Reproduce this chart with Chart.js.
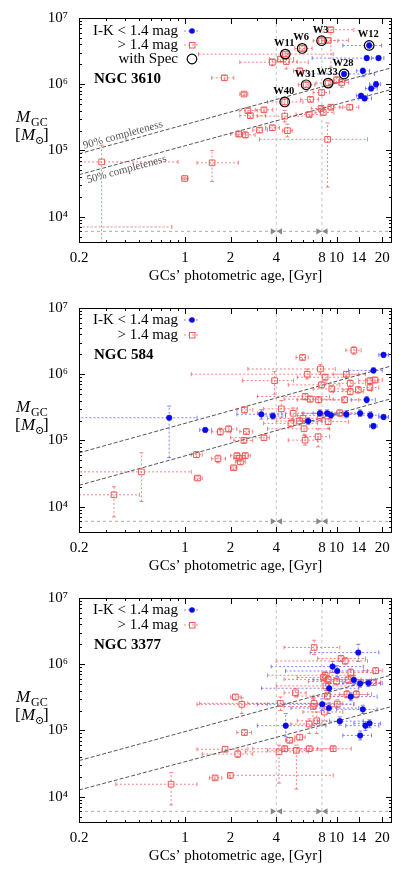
<!DOCTYPE html>
<html lang="en">
<head>
<meta charset="UTF-8">
<title>GC mass vs photometric age</title>
<script src="https://cdn.jsdelivr.net/npm/chart.js"></script>
<style>
  body { margin: 0; background: #fff; }
  canvas { display: block; }
</style>
</head>
<body>
<canvas id="p1" width="415" height="290"></canvas>
<canvas id="p2" width="415" height="290"></canvas>
<canvas id="p3" width="415" height="292"></canvas>
<script>
// axes
const ageTicks = [0.2, 0.3, 0.4, 0.5, 0.6, 0.7, 0.8, 0.9, 1, 2, 3, 4, 5, 6, 7, 8, 9, 10, 14, 20];
const ageLabels = [0.2, 1, 2, 4, 8, 10, 14, 20];
const massTicks = [5e3, 6e3, 7e3, 8e3, 9e3, 1e4, 2e4, 3e4, 4e4, 5e4, 6e4, 7e4, 8e4, 9e4,
  1e5, 2e5, 3e5, 4e5, 5e5, 6e5, 7e5, 8e5, 9e5, 1e6, 2e6, 3e6, 4e6, 5e6, 6e6, 7e6, 8e6, 9e6, 1e7];
const massLabels = [1e4, 1e5, 1e6, 1e7];
const supers = { 4: '\u2074', 5: '\u2075', 6: '\u2076', 7: '\u2077' };

// reference marks
const refAges = [4, 8];
const floorMass = 6000;
const arrowAges = [3.78, 4.25, 7.55, 8.48];
const arrowTurn = [90, -90, 90, -90];
const complAges = [0.2, 23.2];

// rows: [age, mass, ageLo, ageHi, massLo, massHi]
const n3610Blue = [
  [16.4, 3.85e6, 11.0, 19.8, 3.4e6, 4.3e6],
  [15.8, 2.48e6, 6.9, 18.5, 2.3e6, 2.7e6],
  [18.9, 2.48e6, 17.0, 20.5, 2.3e6, 2.7e6],
  [11.2, 1.43e6, 6.6, 17.8, 1.3e6, 1.55e6],
  [14.9, 1.59e6, 13.5, 16.5, 1.3e6, 1.75e6],
  [18.2, 1.0e6, 16.5, 19.5, 9e5, 1.1e6],
  [16.9, 8.6e5, 15.5, 18.5, 8e5, 9.3e5],
  [14.5, 6.7e5, 13.5, 16.0, 6.2e5, 7.2e5],
  [15.3, 6.1e5, 14.0, 17.0, 5.7e5, 6.6e5]
];
const n3610Red = [
  [9.17, 6.65e6, 7.2, 13.0, 1.8e6, 7.2e6],
  [7.96, 4.54e6, 7.0, 10.2, 4.1e6, 5.0e6],
  [8.8, 4.6e6, 8.0, 12.0, 4.2e6, 5.0e6],
  [5.93, 3.47e6, 5.3, 6.9, 3.2e6, 3.8e6],
  [4.59, 2.85e6, 1.23, 9.5, 2.6e6, 3.1e6],
  [3.77, 2.15e6, 2.3, 6.5, 1.9e6, 2.4e6],
  [4.26, 2.4e6, 3.6, 5.2, 2.2e6, 2.6e6],
  [4.66, 2.2e6, 4.0, 5.5, 1.7e6, 2.9e6],
  [5.72, 1.59e6, 5.2, 6.3, 1.45e6, 1.75e6],
  [1.82, 1.25e6, 1.5, 2.1, 1.15e6, 1.35e6],
  [6.3, 9.8e5, 5.6, 7.2, 9e5, 1.07e6],
  [8.8, 1.04e6, 7.3, 10.5, 9.5e5, 1.15e6],
  [10.0, 1.16e6, 9.0, 11.5, 1.05e6, 1.3e6],
  [10.8, 1.06e6, 9.6, 12.0, 9e5, 1.2e6],
  [2.45, 7.1e5, 2.3, 2.6, 6.7e5, 7.5e5],
  [7.96, 7.5e5, 7.0, 9.0, 6.8e5, 8.2e5],
  [4.55, 5.4e5, 3.5, 6.0, 4.9e5, 6.0e5],
  [6.73, 5.9e5, 5.8, 7.6, 5.4e5, 6.4e5],
  [2.6, 4.0e5, 2.3, 3.0, 3.7e5, 4.3e5],
  [3.32, 4.1e5, 2.9, 3.8, 3.8e5, 4.4e5],
  [2.7, 3.35e5, 2.3, 3.4, 3.1e5, 3.6e5],
  [4.55, 3.3e5, 3.0, 6.8, 2.7e5, 4.0e5],
  [6.6, 3.5e5, 5.4, 7.8, 3.2e5, 3.8e5],
  [7.9, 4.3e5, 6.8, 9.5, 3.9e5, 4.7e5],
  [8.17, 3.75e5, 7.2, 9.6, 3.4e5, 4.1e5],
  [9.17, 4.5e5, 8.0, 11.0, 4.1e5, 4.9e5],
  [12.2, 4.5e5, 10.5, 14.0, 4.1e5, 4.9e5],
  [3.1, 2.03e5, 2.8, 3.5, 1.85e5, 2.2e5],
  [3.77, 2.2e5, 3.4, 4.2, 2.0e5, 2.4e5],
  [4.74, 1.99e5, 4.4, 5.1, 1.6e5, 2.5e5],
  [2.26, 1.77e5, 2.0, 2.5, 1.6e5, 1.95e5],
  [2.5, 1.72e5, 2.2, 2.9, 1.55e5, 1.9e5],
  [8.72, 1.47e5, 3.1, 16.0, 2.8e4, 2.6e5],
  [0.282, 6.7e4, 0.15, 0.9, 3000, 1.2e5],
  [1.51, 6.5e4, 1.2, 2.25, 3.4e4, 1.0e5],
  [0.996, 3.77e4, 0.95, 1.05, 3.6e4, 3.95e4],
  [0.15, 7000, 0.08, 0.82, 6800, 7200]
];
// spectroscopic GCs: [age, mass]
const n3610SpecNames = ['W3', 'W6', 'W11', 'W12', 'W28', 'W31', 'W33', 'W40'];
const n3610Spec = [[7.96, 4.54e6], [5.93, 3.47e6], [4.59, 2.85e6], [16.4, 3.85e6],
  [11.2, 1.43e6], [6.3, 9.8e5], [8.8, 1.04e6], [4.55, 5.4e5]];
const n3610Compl90 = [8.9e4, 1.78e6];
const n3610Compl50 = [4.3e4, 8.4e5];

const n584Blue = [
  [0.787, 2.2e5, 0.12, 1.2, 5.5e4, 3.3e5],
  [1.36, 1.44e5, 1.25, 1.5, 1.35e5, 1.55e5],
  [3.19, 2.48e5, 2.2, 4.6, 2.1e5, 2.9e5],
  [3.8, 2.34e5, 3.2, 4.6, 2.1e5, 2.6e5],
  [6.5, 1.96e5, 5.2, 8.0, 1.75e5, 2.2e5],
  [7.76, 2.57e5, 6.0, 10.0, 2.3e5, 2.9e5],
  [8.67, 2.57e5, 7.0, 11.0, 2.3e5, 2.9e5],
  [9.17, 2.4e5, 7.5, 12.0, 2.15e5, 2.7e5],
  [11.6, 2.48e5, 9.0, 14.0, 2.2e5, 2.8e5],
  [14.3, 2.57e5, 11.0, 17.0, 2.3e5, 2.9e5],
  [15.8, 4.1e5, 12.5, 18.0, 3.7e5, 4.6e5],
  [17.5, 1.14e6, 12.0, 20.0, 1.05e6, 1.25e6],
  [20.4, 1.96e6, 19.0, 22.0, 1.8e6, 2.1e6],
  [16.7, 2.4e5, 14.0, 19.0, 2.15e5, 2.7e5],
  [20.4, 2.26e5, 19.0, 22.0, 2.1e5, 2.45e5],
  [17.5, 1.65e5, 16.5, 18.5, 1.5e5, 1.8e5]
];
const n584Red = [
  [13.0, 2.3e6, 11.5, 14.5, 2.0e6, 2.6e6],
  [5.96, 1.79e6, 5.4, 6.5, 1.65e6, 1.95e6],
  [7.83, 1.2e6, 2.6, 9.8, 1.0e6, 1.4e6],
  [6.4, 1.0e6, 1.1, 15.5, 8.5e5, 1.2e6],
  [3.9, 8.0e5, 2.4, 5.2, 5e5, 1.1e6],
  [8.4, 9.0e5, 5.5, 11.5, 8.2e5, 1.0e6],
  [11.6, 1.0e6, 9.5, 14.0, 9e5, 1.1e6],
  [12.3, 7.3e5, 8.5, 15.5, 6.5e5, 8.2e5],
  [16.6, 8.0e5, 14.0, 19.0, 7.2e5, 8.8e5],
  [17.9, 8.2e5, 15.5, 20.0, 7.4e5, 9e5],
  [7.95, 6.9e5, 4.8, 10.5, 6.2e5, 7.7e5],
  [9.3, 6.0e5, 7.0, 12.0, 5.4e5, 6.7e5],
  [12.3, 5.46e5, 9.5, 15.0, 4.9e5, 6.1e5],
  [13.9, 5.8e5, 11.0, 17.0, 5.2e5, 6.5e5],
  [16.6, 6.3e5, 14.0, 19.0, 5.7e5, 7.0e5],
  [6.2, 4.6e5, 3.0, 9.0, 4.1e5, 5.1e5],
  [6.7, 4.2e5, 4.5, 9.5, 3.8e5, 4.7e5],
  [7.6, 4.1e5, 5.5, 11.0, 3.7e5, 4.6e5],
  [11.3, 4.1e5, 8.0, 14.0, 3.7e5, 4.6e5],
  [4.32, 3.0e5, 3.3, 5.5, 2.2e5, 4.0e5],
  [2.47, 2.9e5, 2.2, 2.8, 2.6e5, 3.2e5],
  [5.17, 2.57e5, 3.0, 8.0, 2.1e5, 3.1e5],
  [6.0, 2.15e5, 3.5, 9.0, 1.8e5, 2.6e5],
  [5.0, 1.81e5, 3.3, 7.5, 1.6e5, 2.1e5],
  [5.7, 1.96e5, 4.0, 8.0, 1.7e5, 2.2e5],
  [7.8, 2.37e5, 5.5, 11.0, 2.0e5, 2.8e5],
  [10.5, 2.6e5, 8.0, 14.0, 2.3e5, 2.9e5],
  [6.1, 1.5e5, 3.5, 9.0, 1.2e5, 2.0e5],
  [6.2, 1.01e5, 4.8, 7.5, 8.5e4, 1.2e5],
  [7.55, 1.14e5, 6.2, 9.0, 8e4, 1.5e5],
  [8.8, 1.92e5, 6.5, 12.0, 1.5e5, 2.4e5],
  [1.71, 1.35e5, 1.5, 2.0, 1.2e5, 1.5e5],
  [1.94, 1.49e5, 1.7, 2.2, 1.35e5, 1.65e5],
  [2.54, 1.36e5, 2.3, 2.8, 1.25e5, 1.5e5],
  [3.32, 1.1e5, 2.0, 3.6, 1.0e5, 1.2e5],
  [2.45, 1.0e5, 2.1, 2.8, 9.2e4, 1.1e5],
  [1.19, 6.1e4, 1.1, 1.3, 5.5e4, 6.8e4],
  [1.65, 5.3e4, 1.5, 1.85, 4.6e4, 6e4],
  [2.2, 5.9e4, 2.0, 2.5, 5.4e4, 6.4e4],
  [2.27, 5.4e4, 2.1, 2.5, 5e4, 5.9e4],
  [2.32, 4.75e4, 2.15, 2.5, 4.3e4, 5.2e4],
  [2.5, 5.9e4, 2.3, 2.7, 5.4e4, 6.4e4],
  [2.09, 3.86e4, 2.0, 2.2, 3.6e4, 4.1e4],
  [1.21, 2.7e4, 1.15, 1.3, 2.5e4, 2.9e4],
  [0.516, 3.35e4, 0.15, 1.1, 1.2e4, 6.5e4],
  [0.34, 1.51e4, 0.2, 0.5, 7e3, 2e4]
];
const n584Compl90 = [6.5e4, 1.34e6];
const n584Compl50 = [2.1e4, 4.3e5];

const n3377Blue = [
  [13.9, 1.5e6, 6.7, 19.0, 1.1e6, 2.0e6],
  [9.4, 9.2e5, 3.7, 15.0, 7.5e5, 1.1e6],
  [10.1, 7.9e5, 4.6, 16.0, 6.5e5, 9.5e5],
  [13.0, 5.8e5, 7.0, 18.0, 5.0e5, 6.7e5],
  [14.3, 5.1e5, 8.5, 19.5, 4.5e5, 5.8e5],
  [16.2, 5.2e5, 11.0, 20.0, 4.6e5, 5.9e5],
  [8.94, 4.33e5, 3.2, 14.0, 3.6e5, 5.2e5],
  [12.4, 3.24e5, 7.0, 18.5, 2.8e5, 3.7e5],
  [8.04, 2.48e5, 3.0, 13.0, 2.0e5, 3.0e5],
  [8.9, 2.18e5, 5.0, 14.0, 1.8e5, 2.6e5],
  [14.9, 2.08e5, 10.0, 18.5, 1.8e5, 2.4e5],
  [10.5, 1.38e5, 7.5, 15.0, 1.2e5, 1.6e5],
  [4.62, 1.18e5, 3.0, 8.5, 8e4, 1.8e5],
  [15.5, 1.18e5, 11.5, 19.0, 1.0e5, 1.35e5],
  [16.5, 1.28e5, 13.0, 19.5, 1.1e5, 1.45e5],
  [14.3, 8.4e4, 11.0, 17.0, 7.2e4, 9.8e4]
];
const n3377Red = [
  [7.11, 1.79e6, 4.5, 10.5, 1.4e6, 2.3e6],
  [10.7, 1.22e6, 7.5, 15.5, 1.1e6, 1.35e6],
  [11.4, 1.12e6, 4.0, 16.0, 1.0e6, 1.25e6],
  [8.4, 6.8e5, 3.5, 13.0, 6.0e5, 7.7e5],
  [8.8, 5.9e5, 4.5, 14.5, 5.2e5, 6.7e5],
  [8.2, 6.3e5, 5.5, 12.0, 5.6e5, 7.1e5],
  [8.5, 4.7e5, 4.0, 14.0, 4.0e5, 5.5e5],
  [10.0, 5.5e5, 6.5, 15.0, 4.9e5, 6.2e5],
  [11.9, 5.8e5, 8.0, 17.0, 5.1e5, 6.6e5],
  [12.4, 7.5e5, 9.0, 17.5, 6.6e5, 8.5e5],
  [18.1, 8.0e5, 15.0, 20.0, 7.2e5, 8.9e5],
  [17.5, 5.3e5, 14.0, 19.5, 4.8e5, 5.9e5],
  [2.15, 3.2e5, 2.0, 2.35, 2.9e5, 3.5e5],
  [2.37, 2.48e5, 1.2, 3.5, 1.8e5, 3.1e5],
  [4.26, 2.56e5, 1.25, 8.0, 2.0e5, 3.2e5],
  [5.35, 3.7e5, 4.5, 6.3, 3.2e5, 4.3e5],
  [7.1, 2.56e5, 2.6, 11.0, 2.1e5, 3.1e5],
  [7.0, 2.3e5, 4.5, 10.0, 1.2e5, 3.0e5],
  [8.7, 3.3e5, 5.5, 13.0, 2.9e5, 3.8e5],
  [10.1, 2.5e5, 7.5, 13.0, 2.2e5, 2.9e5],
  [11.7, 3.5e5, 8.5, 16.0, 3.1e5, 4.0e5],
  [13.5, 3.5e5, 10.5, 17.0, 3.1e5, 4.0e5],
  [8.3, 1.9e5, 6.0, 11.0, 1.2e5, 2.6e5],
  [7.4, 1.4e5, 5.5, 9.0, 9e4, 1.9e5],
  [6.6, 1.25e5, 5.0, 8.0, 9e4, 1.5e5],
  [2.47, 9.3e4, 2.2, 2.75, 8.5e4, 1.02e5],
  [4.9, 7.1e4, 4.6, 5.3, 6.5e4, 7.8e4],
  [5.7, 7.9e4, 5.3, 6.2, 7.2e4, 8.7e4],
  [1.84, 5.2e4, 1.2, 2.6, 4.8e4, 5.7e4],
  [2.23, 4.4e4, 1.3, 2.8, 3.9e4, 5e4],
  [4.17, 4.75e4, 2.5, 6.5, 1.6e4, 6e4],
  [4.55, 5.3e4, 2.8, 7.0, 4.8e4, 5.8e4],
  [5.43, 5.0e4, 3.5, 8.0, 1.3e4, 6e4],
  [6.6, 5.3e4, 4.5, 9.5, 4.8e4, 5.8e4],
  [9.5, 5.3e4, 7.5, 12.5, 4.8e4, 5.8e4],
  [1.99, 2.1e4, 1.95, 9.5, 1.9e4, 2.3e4],
  [1.58, 1.92e4, 1.45, 1.75, 1.8e4, 2.05e4],
  [0.81, 1.54e4, 0.35, 1.2, 7.5e3, 2.3e4]
];
const n3377Compl90 = [3.5e4, 6.9e5];
const n3377Compl50 = [1.26e4, 2.3e5];

const serif = "'Liberation Serif', 'DejaVu Serif', serif";
const redEdge = '#ef5a5a';
const redErr = 'rgba(240,90,90,0.75)';
const blueFill = '#0a0af0';
const blueErr = 'rgba(90,90,255,0.75)';

function rows(list) {
  return list.map(r => ({ x: r[0], y: r[1], xl: r[2], xh: r[3], yl: r[4], yh: r[5] }));
}

// error bars, frame, inward ticks, legend and the free text
const panelDecor = {
  id: 'panelDecor',
  beforeDatasetsDraw(chart) {
    const { ctx, chartArea: a, scales: { x, y } } = chart;
    ctx.save();
    ctx.beginPath();
    ctx.rect(a.left, a.top, a.right - a.left, a.bottom - a.top);
    ctx.clip();
    ctx.lineWidth = 1;
    chart.data.datasets.forEach(ds => {
      if (!ds.errColor) return;
      ctx.strokeStyle = ds.errColor;
      ds.data.forEach(p => {
        const px = x.getPixelForValue(p.x), py = y.getPixelForValue(p.y);
        const x0 = x.getPixelForValue(p.xl), x1 = x.getPixelForValue(p.xh);
        const y0 = y.getPixelForValue(p.yl), y1 = y.getPixelForValue(p.yh);
        ctx.setLineDash([2, 2]);
        ctx.beginPath();
        ctx.moveTo(x0, py); ctx.lineTo(x1, py);
        ctx.moveTo(px, y0); ctx.lineTo(px, y1);
        ctx.stroke();
        ctx.setLineDash([]);
        ctx.beginPath();
        ctx.moveTo(x0, py - 2); ctx.lineTo(x0, py + 2);
        ctx.moveTo(x1, py - 2); ctx.lineTo(x1, py + 2);
        ctx.moveTo(px - 2, y0); ctx.lineTo(px + 2, y0);
        ctx.moveTo(px - 2, y1); ctx.lineTo(px + 2, y1);
        ctx.stroke();
      });
    });
    ctx.restore();
  },
  afterDraw(chart, args, opts) {
    const { ctx, chartArea: a, scales: { x, y } } = chart;
    ctx.save();
    // frame + inward ticks on all sides
    ctx.strokeStyle = '#000';
    ctx.lineWidth = 1;
    ctx.strokeRect(a.left + 0.5, a.top + 0.5, a.right - a.left - 1, a.bottom - a.top - 1);
    ctx.beginPath();
    ageTicks.forEach(v => {
      const px = Math.round(x.getPixelForValue(v)) + 0.5;
      const len = ageLabels.includes(v) ? 6 : 3;
      ctx.moveTo(px, a.bottom); ctx.lineTo(px, a.bottom - len);
      ctx.moveTo(px, a.top); ctx.lineTo(px, a.top + len);
    });
    massTicks.forEach(v => {
      const py = Math.round(y.getPixelForValue(v)) + 0.5;
      const len = massLabels.includes(v) ? 6 : 3;
      ctx.moveTo(a.left, py); ctx.lineTo(a.left + len, py);
      ctx.moveTo(a.right, py); ctx.lineTo(a.right - len, py);
    });
    ctx.stroke();

    // y title
    ctx.fillStyle = '#000';
    ctx.textBaseline = 'alphabetic';
    ctx.textAlign = 'left';
    ctx.font = 'italic 17px ' + serif;
    ctx.fillText('M', 16, 122);
    ctx.font = '12px ' + serif;
    ctx.fillText('GC', 31, 126);
    ctx.font = '17px ' + serif;
    ctx.fillText('[', 15, 140);
    ctx.font = 'italic 17px ' + serif;
    ctx.fillText('M', 21, 140);
    ctx.font = '11px ' + serif;
    ctx.fillText('\u2299', 35, 144);
    ctx.font = '17px ' + serif;
    ctx.fillText(']', 43, 140);

    // legend
    const tx = a.left + 99, mx = a.left + 113;
    opts.legend.forEach((row, i) => {
      const ly = opts.legendY[i];
      ctx.font = '15px ' + serif;
      ctx.textAlign = 'right';
      ctx.textBaseline = 'middle';
      ctx.fillStyle = '#000';
      ctx.fillText(row.label, tx, ly);
      if (row.kind === 'blue' || row.kind === 'red') {
        ctx.strokeStyle = row.kind === 'blue' ? blueErr : redErr;
        ctx.setLineDash([2, 2]);
        ctx.beginPath();
        ctx.moveTo(mx - 8, ly); ctx.lineTo(mx + 8, ly);
        ctx.stroke();
        ctx.setLineDash([]);
        if (row.kind === 'blue') {
          ctx.fillStyle = blueFill;
          ctx.beginPath(); ctx.arc(mx, ly, 2.8, 0, Math.PI * 2); ctx.fill();
        } else {
          ctx.strokeStyle = redEdge;
          ctx.strokeRect(mx - 2.5, ly - 2.5, 5.5, 5.5);
        }
      } else {
        ctx.strokeStyle = '#000';
        ctx.lineWidth = 1.2;
        ctx.beginPath(); ctx.arc(mx, ly, 4.8, 0, Math.PI * 2); ctx.stroke();
        ctx.lineWidth = 1;
      }
    });
    ctx.textAlign = 'left';
    ctx.font = 'bold 15px ' + serif;
    ctx.fillStyle = '#000';
    ctx.fillText(opts.galaxy, a.left + 15, opts.galaxyY);

    // names of spectroscopic GCs
    if (opts.specNames) {
      const spec = chart.data.datasets.find(d => d.specSet);
      ctx.font = 'bold 10.5px ' + serif;
      ctx.textAlign = 'center';
      ctx.textBaseline = 'alphabetic';
      spec.data.forEach((p, i) => {
        ctx.fillText(opts.specNames[i], x.getPixelForValue(p.x) - 1, y.getPixelForValue(p.y) - 8);
      });
    }

    // completeness captions along the lines
    if (opts.complText) {
      const sets = chart.data.datasets.filter(d => d.complSet);
      ctx.font = '11px ' + serif;
      ctx.fillStyle = '#555';
      ctx.textAlign = 'left';
      sets.forEach((d, i) => {
        const x0 = x.getPixelForValue(d.data[0].x), y0 = y.getPixelForValue(d.data[0].y);
        const x1 = x.getPixelForValue(d.data[1].x), y1 = y.getPixelForValue(d.data[1].y);
        const ang = Math.atan2(y1 - y0, x1 - x0);
        ctx.save();
        ctx.translate(x0 + 6, y0 + 6 * Math.tan(ang));
        ctx.rotate(ang);
        if (i === 0) { ctx.textBaseline = 'bottom'; ctx.fillText(opts.complText[0], 0, -1); }
        else { ctx.textBaseline = 'top'; ctx.fillText(opts.complText[1], 0, 2); }
        ctx.restore();
      });
    }
    ctx.restore();
  }
};

function makePanel(id, blue, red, compl90, compl50, decor, spec) {
  const datasets = [];
  if (spec) {
    datasets.push({
      specSet: true, data: spec.map(r => ({ x: r[0], y: r[1] })), order: 0,
      pointStyle: 'circle', pointRadius: 4.8, borderColor: '#000', borderWidth: 1.2,
      backgroundColor: 'rgba(0,0,0,0)'
    });
  }
  datasets.push({
    data: rows(blue), errColor: blueErr, order: 1,
    pointStyle: 'circle', pointRadius: 2.8, backgroundColor: blueFill, borderColor: blueFill, borderWidth: 0.5
  });
  datasets.push({
    data: rows(red), errColor: redErr, order: 2,
    pointStyle: 'rect', pointRadius: 4, backgroundColor: 'rgba(0,0,0,0)', borderColor: redEdge, borderWidth: 1
  });
  datasets.push({
    data: arrowAges.map(v => ({ x: v, y: floorMass })), order: 3,
    pointStyle: 'triangle', pointRadius: 3.6, rotation: arrowTurn,
    backgroundColor: '#888', borderColor: '#888', borderWidth: 0
  });
  [compl90, compl50].forEach(c => {
    datasets.push({
      complSet: true, order: 4, showLine: true, pointRadius: 0,
      data: complAges.map((v, i) => ({ x: v, y: c[i] })),
      borderColor: '#555', borderWidth: 1, borderDash: [4, 2]
    });
  });
  refAges.forEach(v => {
    datasets.push({
      order: 5, showLine: true, pointRadius: 0,
      data: [{ x: v, y: 4000 }, { x: v, y: 1e7 }],
      borderColor: '#c4c4c4', borderWidth: 1, borderDash: [3, 3]
    });
  });
  datasets.push({
    order: 5, showLine: true, pointRadius: 0,
    data: [{ x: 0.2, y: floorMass }, { x: 23.2, y: floorMass }],
    borderColor: '#aaa', borderWidth: 1, borderDash: [3, 3]
  });

  const canvas = document.getElementById(id);
  const extra = canvas.height - 290;
  return new Chart(canvas, {
    type: 'scatter',
    data: { datasets },
    options: {
      responsive: false,
      animation: false,
      events: [],
      layout: { padding: { left: 0, right: 23, top: 18, bottom: 0 } },
      plugins: { legend: { display: false }, tooltip: { enabled: false }, panelDecor: decor },
      scales: {
        x: {
          type: 'logarithmic', min: 0.2, max: 23.2,
          grid: { display: false }, border: { display: false },
          afterBuildTicks: s => { s.ticks = ageTicks.map(v => ({ value: v })); },
          afterFit: s => { s.height = canvas.height - 243; },
          ticks: {
            autoSkip: false, maxRotation: 0, padding: -2, color: '#000',
            font: { family: serif, size: 15 },
            callback: v => ageLabels.includes(v) ? String(v) : ''
          },
          title: {
            display: true, text: 'GCs\u2019 photometric age, [Gyr]', color: '#000',
            font: { family: serif, size: 15 }, padding: { top: 0, bottom: 5 + extra }
          }
        },
        y: {
          type: 'logarithmic', min: 4000, max: 1e7,
          grid: { display: false }, border: { display: false },
          afterBuildTicks: s => { s.ticks = massTicks.map(v => ({ value: v })); },
          afterFit: s => { s.width = 79; },
          ticks: {
            autoSkip: false, padding: 3, color: '#000',
            font: { family: serif, size: 15 },
            callback: v => massLabels.includes(v) ? '10' + supers[Math.round(Math.log10(v))] : ''
          }
        }
      }
    },
    plugins: [panelDecor]
  });
}

makePanel('p1', n3610Blue, n3610Red, n3610Compl90, n3610Compl50, {
  galaxy: 'NGC 3610', galaxyY: 79,
  legend: [{ label: 'I-K < 1.4 mag', kind: 'blue' }, { label: '> 1.4 mag', kind: 'red' }, { label: 'with Spec', kind: 'spec' }],
  legendY: [31, 45, 59],
  specNames: n3610SpecNames,
  complText: ['90% completeness', '50% completeness']
}, n3610Spec);

makePanel('p2', n584Blue, n584Red, n584Compl90, n584Compl50, {
  galaxy: 'NGC 584', galaxyY: 65,
  legend: [{ label: 'I-K < 1.4 mag', kind: 'blue' }, { label: '> 1.4 mag', kind: 'red' }],
  legendY: [30, 45]
});

makePanel('p3', n3377Blue, n3377Red, n3377Compl90, n3377Compl50, {
  galaxy: 'NGC 3377', galaxyY: 65,
  legend: [{ label: 'I-K < 1.4 mag', kind: 'blue' }, { label: '> 1.4 mag', kind: 'red' }],
  legendY: [30, 45]
});
</script>
</body>
</html>
